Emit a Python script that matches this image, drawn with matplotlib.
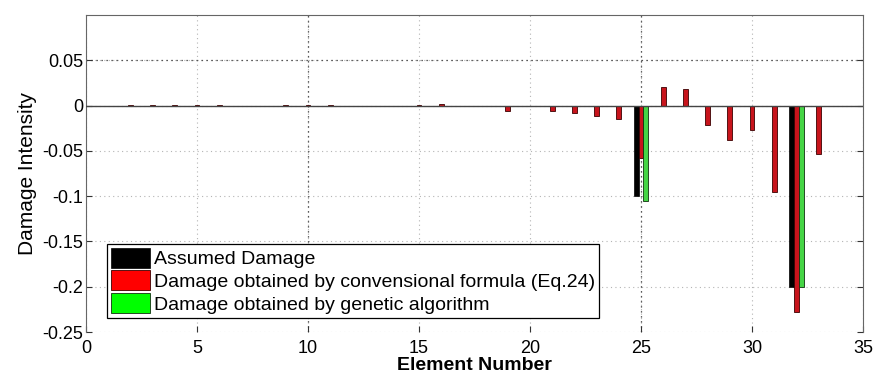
import numpy as np
import matplotlib
matplotlib.use('Agg')
import matplotlib.pyplot as plt

# Element numbers and damage values
elements = np.arange(1, 34)
damaged_elements = [25, 32]
assumed = [-0.100, -0.200]
genetic = [-0.105, -0.200]
conventional = [0.0, 0.0012, 0.0004, 0.0004, 0.0004, 0.0004, 0.0, 0.0, 0.0004, 0.0003,
                0.0012, 0.0, 0.0, 0.0, 0.0010, 0.0018, -0.0005, -0.0006, -0.0055, -0.0008,
                -0.0055, -0.008, -0.011, -0.0145, -0.058, 0.021, 0.018, -0.021, -0.038, -0.027,
                -0.095, -0.228, -0.053]

labels = ['Assumed Damage',
          'Damage obtained by convensional formula (Eq.24)',
          'Damage obtained by genetic algorithm']

plt.rcParams['font.family'] = ['Liberation Sans', 'DejaVu Sans']

fig = plt.figure(figsize=(8.77, 3.76), dpi=100)
ax = fig.add_axes([0.098, 0.117, 0.886, 0.843])

# grouped bars: assumed left, conventional centre, genetic right
w = 0.22
x_dmg = np.array(damaged_elements)
b1 = ax.bar(x_dmg - w, assumed, width=w, color='black', edgecolor='black',
            linewidth=0.5, zorder=3)
b2 = ax.bar(elements, conventional, width=w, color='#c8141c', edgecolor='#3a0000',
            linewidth=0.6, zorder=3)
b3 = ax.bar(x_dmg + w, genetic, width=w, color='#45d545', edgecolor='#103010',
            linewidth=0.6, zorder=3)

ax.axhline(0, color='#444444', linewidth=1.0, zorder=4)

ax.set_xlim(0, 35)
ax.set_ylim(-0.25, 0.1)
ax.set_xticks([0, 5, 10, 15, 20, 25, 30, 35])
ax.set_yticks([-0.25, -0.2, -0.15, -0.1, -0.05, 0, 0.05])
ax.set_yticklabels(['-0.25', '-0.2', '-0.15', '-0.1', '-0.05', '0', '0.05'])
ax.tick_params(direction='in', length=4, labelsize=13, color='#333333',
               right=True, top=False)
ax.tick_params(axis='x', pad=6)
ax.tick_params(axis='y', pad=2)
ax.grid(True, linestyle=(0, (1, 3)), color='#b4b4b4', linewidth=0.8)
# a few grid lines come out darker in the original
for xv in [10, 25]:
    ax.axvline(xv, linestyle=(0, (1, 3)), color='#333333', linewidth=0.9, zorder=1)
ax.axhline(0.05, linestyle=(0, (1, 3)), color='#333333', linewidth=0.9, zorder=1)
ax.set_axisbelow(True)
for s in ['left', 'right', 'top']:
    ax.spines[s].set_color('#666666')
ax.spines['bottom'].set_visible(False)

ax.set_xlabel('Element Number', fontsize=14, fontweight='bold', labelpad=0)
ax.set_ylabel('Damage Intensity', fontsize=15, labelpad=4)

leg = ax.legend([b1, b2, b3], labels, loc='lower left',
                bbox_to_anchor=(0.027, 0.045), fontsize=14, fancybox=False,
                edgecolor='black', framealpha=1, handlelength=2.0, handleheight=1.2,
                labelspacing=0.12, handletextpad=0.2, borderpad=0.2, borderaxespad=0)
leg.get_frame().set_linewidth(0.9)
leg.legend_handles[1].set_facecolor('#ff0000')
leg.legend_handles[2].set_facecolor('#00ff00')
leg.set_zorder(5)

fig.savefig('out.png', dpi=100)
